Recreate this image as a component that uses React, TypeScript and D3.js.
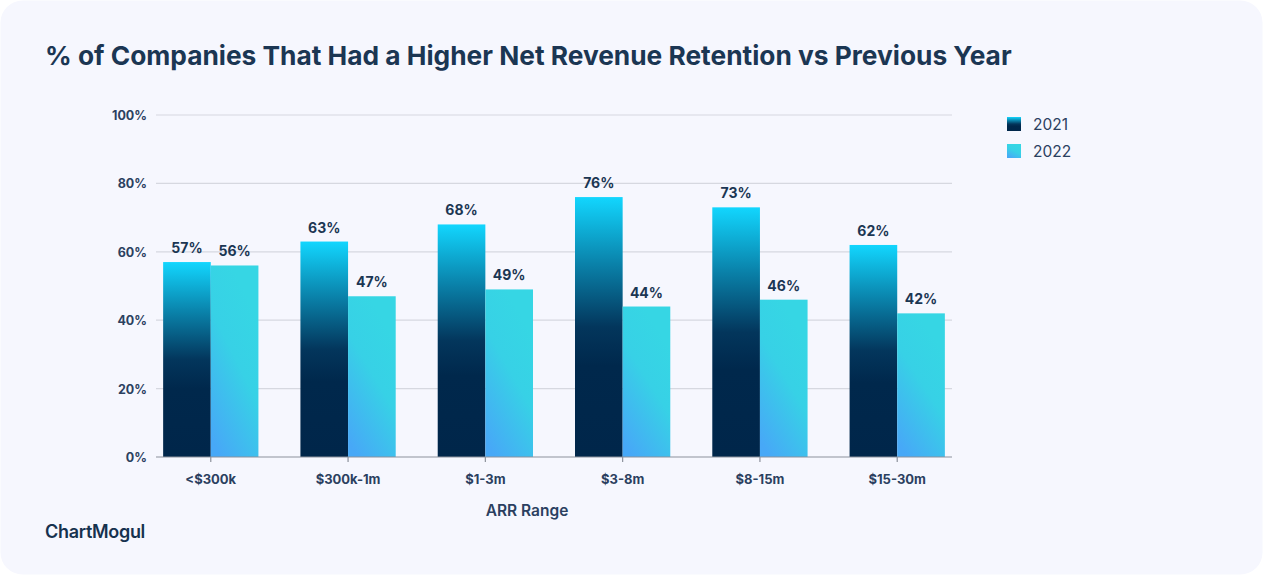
import React from 'react';
import * as d3 from 'd3';

const categories = ['<$300k', '$300k-1m', '$1-3m', '$3-8m', '$8-15m', '$15-30m'];
const series2021 = [57, 63, 68, 76, 73, 62];
const series2022 = [56, 47, 49, 44, 46, 42];
const seriesNames = ['2021', '2022'];
const yTicks = [0, 20, 40, 60, 80, 100];

const W = 1263;
const H = 575;
const plot = { left: 156, right: 952, top: 115, bottom: 457 };
const ink = '#1b3653';
const font = 'Inter, "Noto Sans", sans-serif';

export default function App() {
  const x = d3.scaleBand<string>()
    .domain(categories)
    .range([plot.left, plot.right])
    .paddingInner(0.306)
    .paddingOuter(0.052);

  const xs = d3.scaleBand<string>()
    .domain(seriesNames)
    .range([0, x.bandwidth()]);

  const y = d3.scaleLinear().domain([0, 100]).range([plot.bottom, plot.top]);

  const rows = categories.map((c, i) => ({ c, v: [series2021[i], series2022[i]] }));
  const fills = ['url(#g2021)', 'url(#g2022)'];

  return (
    <div style={{ position: 'absolute', left: 0, top: 0 }}>
      <svg width={W} height={H} style={{ display: 'block' }}>
        <defs>
          <linearGradient id="g2021" x1="0" y1="0" x2="0" y2="1">
            <stop offset="0" stopColor="#12d6fe" />
            <stop offset="0.25" stopColor="#0a84ac" />
            <stop offset="0.5" stopColor="#03365c" />
            <stop offset="0.65" stopColor="#00284c" />
            <stop offset="1" stopColor="#00264a" />
          </linearGradient>
          <linearGradient id="g2022" x1="0.65" y1="0.1" x2="0.2" y2="1">
            <stop offset="0" stopColor="#36d6e4" />
            <stop offset="0.4" stopColor="#37d1e6" />
            <stop offset="1" stopColor="#47a8f7" />
          </linearGradient>
        </defs>

        <rect x={0} y={0} width={W} height={H} fill="#ffffff" />
        <rect x={0.5} y={0.5} width={W - 1} height={H - 1} rx={22} fill="#f6f7fe" />

        <text x={45} y={65} fontFamily={font} fontWeight={700} fontSize={26.3} fill={ink}>
          % of Companies That Had a Higher Net Revenue Retention vs Previous Year
        </text>

        {/* grid + y labels */}
        {yTicks.map(t => (
          <g key={t}>
            {t > 0 && (
              <line x1={plot.left} x2={plot.right} y1={y(t)} y2={y(t)} stroke="#d6d8e0" strokeWidth={1.2} />
            )}
            <text x={147} y={y(t)} dy="0.4em" textAnchor="end" fontFamily={font} fontWeight={700}
              fontSize={12.5} fill="#2b4060">{t}%</text>
          </g>
        ))}

        {/* bars */}
        {rows.map(r => (
          <g key={r.c} transform={`translate(${x(r.c)},0)`}>
            {r.v.map((v, j) => (
              <g key={j}>
                <rect x={xs(seriesNames[j])} y={y(v)} width={xs.bandwidth()} height={y(0) - y(v)} fill={fills[j]} />
                <text x={(xs(seriesNames[j]) as number) + xs.bandwidth() / 2} y={y(v) - 9} textAnchor="middle"
                  fontFamily={font} fontWeight={700} fontSize={14} fill={ink}>{v}%</text>
              </g>
            ))}
          </g>
        ))}

        {/* x axis */}
        <line x1={plot.left} x2={plot.right} y1={plot.bottom} y2={plot.bottom} stroke="#8c919b" strokeWidth={1.2} />
        {categories.map(c => {
          const cx = (x(c) as number) + x.bandwidth() / 2;
          return (
            <g key={c}>
              <line x1={cx} x2={cx} y1={plot.bottom} y2={plot.bottom + 5} stroke="#8c919b" strokeWidth={1.2} />
              <text x={cx} y={484} textAnchor="middle" fontFamily={font} fontWeight={700} fontSize={13}
                fill="#2b4060">{c}</text>
            </g>
          );
        })}
        <text x={(plot.left + plot.right) / 2 - 27} y={516} textAnchor="middle" fontFamily={font} fontWeight={600}
          fontSize={15.5} fill="#2b4060">ARR Range</text>

        {/* legend */}
        {seriesNames.map((s, i) => (
          <g key={s} transform={`translate(1007,${117 + i * 27})`}>
            <rect width={14} height={14} fill={fills[i]} />
            <text x={26} y={7} dy="0.38em" fontFamily={font} fontSize={15.5} fill="#2b4060">{s}</text>
          </g>
        ))}

        {/* logo */}
        <text x={45} y={538} fontFamily={font} fontWeight={600} fontSize={18} letterSpacing={-0.3} fill="#16324f">
          ChartMogul
        </text>
      </svg>
    </div>
  );
}
